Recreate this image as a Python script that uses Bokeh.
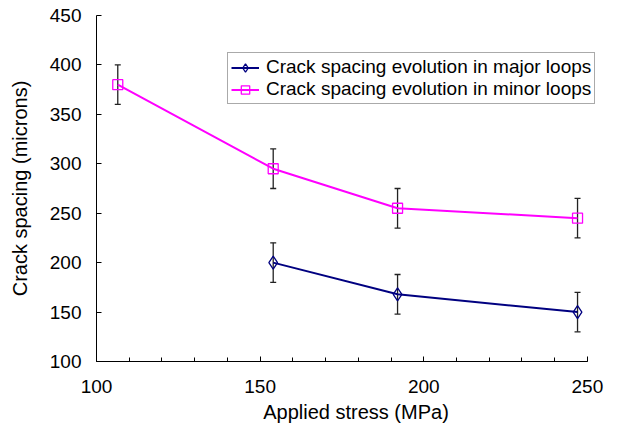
from bokeh.plotting import figure
from bokeh.models import (ColumnDataSource, Whisker, TeeHead, Legend, LegendItem,
                          Range1d, FixedTicker)
from bokeh.embed import file_html
from bokeh.resources import INLINE

# Applied stress (MPa) and crack spacing (microns) with +/- error
major_stress = [154, 192, 247]
major_spacing = [200, 168, 150]
major_err = [20, 20, 20]

minor_stress = [106.5, 154, 192, 247]
minor_spacing = [380, 295, 255, 245]
minor_err = [20, 20, 20, 20]

x_ticks = [100, 150, 200, 250]
y_ticks = [100, 150, 200, 250, 300, 350, 400, 450]

FONT = "Liberation Sans"

# The frame runs a little past 250 so the legend box is not clipped;
# the x axis itself stops at 250.
X_PAD = 8.6
p = figure(width=639, height=429, output_backend="svg", toolbar_location=None,
           x_range=Range1d(100, 250 + X_PAD), y_range=Range1d(100, 450),
           min_border_left=96, min_border_right=24, min_border_top=15,
           min_border_bottom=68)
p.outline_line_color = None
p.xgrid.visible = False
p.ygrid.visible = False

def errors(xs, ys, es):
    return ColumnDataSource(dict(x=xs, lo=[y - e for y, e in zip(ys, es)],
                                 hi=[y + e for y, e in zip(ys, es)]))

for xs, ys, es in [(major_stress, major_spacing, major_err),
                   (minor_stress, minor_spacing, minor_err)]:
    w = Whisker(source=errors(xs, ys, es), base="x", lower="lo", upper="hi",
                line_color="#222222", line_width=1.3,
                upper_head=TeeHead(size=6, line_color="#222222", line_width=1.3),
                lower_head=TeeHead(size=6, line_color="#222222", line_width=1.3))
    p.add_layout(w)

maj_line = p.line(major_stress, major_spacing, line_color="#000080", line_width=2)
maj_pts = p.scatter(major_stress, major_spacing, marker="diamond", size=13,
                    line_color="#000080", fill_color=None, line_width=1.3)
min_line = p.line(minor_stress, minor_spacing, line_color="#FF00FF", line_width=2)
min_pts = p.scatter(minor_stress, minor_spacing, marker="square", size=10,
                    line_color="#FF00FF", fill_color=None, line_width=1.3)

legend = Legend(items=[
    LegendItem(label="Crack spacing evolution in major loops", renderers=[maj_line, maj_pts]),
    LegendItem(label="Crack spacing evolution in minor loops", renderers=[min_line, min_pts]),
], location=(131, 257), label_text_font=FONT, label_text_font_size="19px",
   label_text_color="black", border_line_color="#555555", border_line_width=1,
   glyph_width=28, glyph_height=21, label_height=21, label_standoff=7,
   padding=3, spacing=0, margin=0, background_fill_alpha=1)
p.add_layout(legend, "center")

for ax in (p.xaxis[0], p.yaxis[0]):
    ax.axis_line_color = "black"
    ax.axis_line_width = 1
    ax.major_tick_in = 5
    ax.major_tick_out = 0
    ax.major_tick_line_color = "black"
    ax.major_label_text_font = FONT
    ax.major_label_text_font_size = "19px"
    ax.major_label_text_color = "black"
    ax.axis_label_text_font = FONT
    ax.axis_label_text_font_size = "20px"
    ax.axis_label_text_font_style = "normal"
    ax.axis_label_text_color = "black"

p.xaxis.bounds = (100, 250)
p.xaxis.ticker = FixedTicker(ticks=x_ticks, minor_ticks=list(range(100, 251, 10)))
p.xaxis.minor_tick_in = 4
p.xaxis.minor_tick_out = 0
p.xaxis.minor_tick_line_color = "black"
p.xaxis.major_label_standoff = 18
p.xaxis.axis_label = "Applied stress (MPa)"
p.xaxis.axis_label_standoff = 5

p.yaxis.ticker = FixedTicker(ticks=y_ticks, minor_ticks=[])
p.yaxis.minor_tick_line_color = None
p.yaxis.major_label_standoff = 15
p.yaxis.axis_label = "Crack spacing (microns)"
p.yaxis.axis_label_standoff = 16

open("out.html", "w").write(file_html(p, INLINE))
